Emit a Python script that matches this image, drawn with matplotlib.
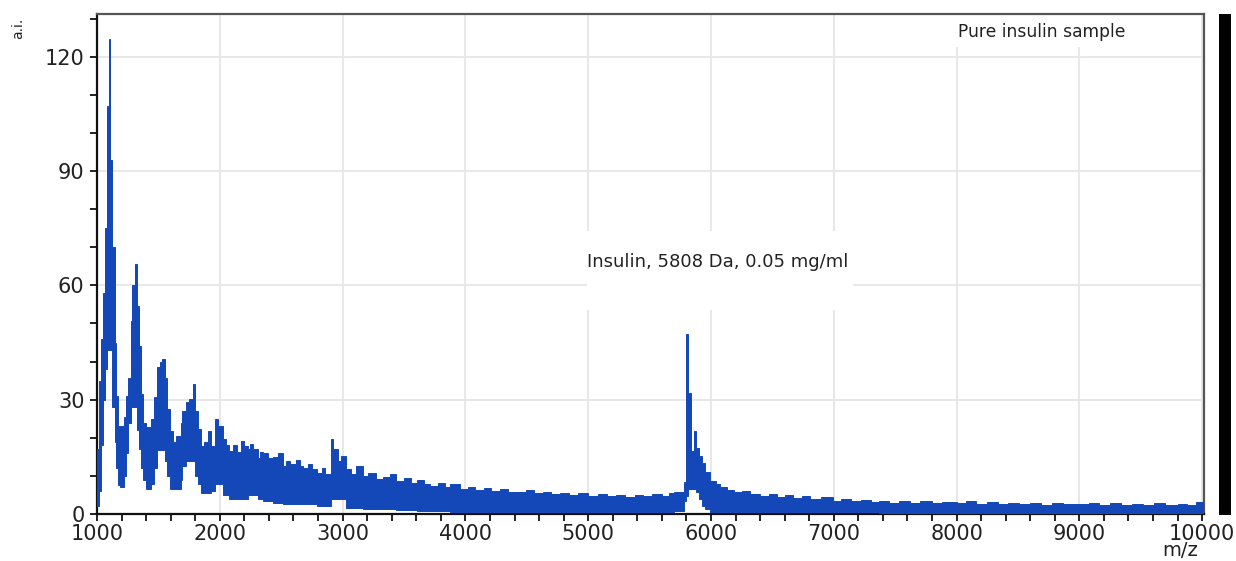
import numpy as np
import matplotlib
matplotlib.use("Agg")
import matplotlib.pyplot as plt
from matplotlib.ticker import MultipleLocator
from matplotlib.patches import Rectangle

# spectrum read off the picture as steps: segment start (m/z) and
# the top / bottom of the noise band (a.i.)
mz_top = [1000, 1014, 1030, 1046, 1063, 1082, 1096, 1109, 1123, 1145,
          1158, 1172, 1191, 1218, 1237, 1254, 1273, 1287, 1306, 1322,
          1341, 1355, 1374, 1396, 1437, 1464, 1491, 1510, 1532, 1554,
          1573, 1592, 1620, 1641, 1682, 1696, 1723, 1751, 1783, 1800,
          1819, 1846, 1874, 1901, 1928, 1964, 1983, 2024, 2050, 2078,
          2110, 2140, 2174, 2200, 2228, 2250, 2274, 2310, 2330, 2351,
          2390, 2433, 2470, 2515, 2540, 2570, 2620, 2650, 2679, 2720,
          2750, 2788, 2830, 2860, 2904, 2923, 2959, 2990, 3027, 3070,
          3110, 3164, 3210, 3274, 3330, 3384, 3438, 3500, 3560, 3603,
          3660, 3712, 3780, 3830, 3877, 3959, 4020, 4080, 4151, 4210,
          4280, 4350, 4425, 4490, 4560, 4630, 4699, 4770, 4840, 4920,
          5000, 5080, 5150, 5230, 5300, 5380, 5450, 5520, 5600, 5660,
          5700, 5780, 5799, 5815, 5834, 5861, 5880, 5901, 5928, 5955,
          5995, 6040, 6076, 6130, 6184, 6250, 6320, 6399, 6470, 6540,
          6600, 6668, 6740, 6810, 6900, 6991, 7060, 7140, 7220, 7300,
          7367, 7450, 7530, 7620, 7700, 7800, 7880, 8000, 8080, 8160,
          8250, 8340, 8420, 8510, 8600, 8690, 8780, 8870, 9000, 9080,
          9160, 9250, 9340, 9430, 9520, 9610, 9700, 9800, 9880, 9950]
top = [17, 35, 46, 58, 75, 107, 124.6, 93, 70, 45,
       31, 23, 23, 25.4, 31, 35.6, 50.7, 60, 65.5, 54.6,
       44, 31.6, 24, 22.8, 25, 30.7, 38.7, 40, 40.7, 35.6,
       27.6, 21.9, 18.8, 20.5, 24, 27, 29.4, 30.3, 34, 27,
       22.3, 17.9, 18.8, 21.7, 17.9, 25, 23.2, 19.7, 18.2, 16.6,
       18.0, 16.2, 19.2, 17.8, 17, 18.3, 17, 14.8, 16.4, 16,
       14.6, 15, 16.1, 12.6, 13.8, 13, 14.2, 12.5, 12, 13.1,
       11.8, 10.8, 12.0, 10.6, 19.6, 17, 13.9, 15.1, 11.7, 10.6,
       12.6, 10.0, 10.8, 9.1, 9.8, 10.4, 8.7, 9.4, 8.2, 8.9,
       8.0, 7.4, 8.1, 7.2, 7.8, 6.5, 7.1, 6.3, 6.8, 6.0,
       6.6, 5.9, 5.7, 6.2, 5.4, 5.9, 5.2, 5.6, 4.9, 5.4,
       4.8, 5.3, 4.6, 5.1, 4.5, 5.0, 4.6, 5.2, 4.7, 5.4,
       5.7, 8.3, 47.2, 31.7, 16.5, 21.7, 17.4, 15.2, 13.5, 10.9,
       8.7, 8.0, 7.0, 6.4, 5.7, 6.1, 5.2, 4.8, 5.2, 4.5,
       4.9, 4.3, 4.7, 4.0, 4.4, 3.5, 3.9, 3.3, 3.7, 3.1,
       3.4, 3.0, 3.5, 2.9, 3.3, 2.8, 3.2, 2.9, 3.3, 2.7,
       3.1, 2.6, 3.0, 2.5, 2.9, 2.4, 2.8, 2.5, 2.6, 3.0,
       2.4, 2.8, 2.3, 2.7, 2.3, 2.8, 2.4, 2.7, 2.4, 3.2]

mz_bottom = [1000, 1014, 1030, 1046, 1063, 1082, 1123, 1145, 1158, 1172,
             1191, 1218, 1237, 1254, 1273, 1322, 1341, 1355, 1374, 1396,
             1437, 1464, 1491, 1554, 1573, 1592, 1682, 1696, 1723, 1800,
             1819, 1846, 1928, 1964, 2024, 2078, 2228, 2310, 2351, 2433,
             2515, 2788, 2904, 3027, 3164, 3438, 3603, 3712, 3877, 3959,
             4151, 5700, 5780, 5799, 5815, 5880, 5901, 5928, 5955, 5995,
             6076, 7367]
bottom = [2, 6, 18, 30, 38, 43, 28, 19, 12, 7.5,
          7, 10, 16, 24, 28, 22, 17, 12, 9, 6.5,
          8, 12, 16.8, 14, 10, 6.5, 9, 12.6, 14, 10,
          8, 5.5, 6, 8, 5, 4, 5, 4, 3.5, 3,
          2.5, 2.2, 3.9, 1.7, 1.3, 1.0, 0.9, 0.8, 0.6, 0.5,
          0.4, 0.9, 3.4, 4.8, 6.5, 5.7, 3.9, 2.2, 1.3, 0.6,
          0.4, 0.3]
mz_end = 10015

x_ticks = [1000, 2000, 3000, 4000, 5000, 6000, 7000, 8000, 9000, 10000]
y_ticks = [0, 30, 60, 90, 120]

blue = "#1448b8"
ink = "#222222"


def step_outline(starts, vals, end):
    edges = np.array(list(starts) + [end], dtype=float)
    xs = np.repeat(edges, 2)[1:-1]
    ys = np.repeat(np.array(vals, dtype=float), 2)
    return xs, ys


fig = plt.figure(figsize=(12.36, 5.61), dpi=100)
ax = fig.add_axes([97 / 1236, 1 - 514 / 561, 1107 / 1236, 500 / 561])

xu, yu = step_outline(mz_top, top, mz_end)
xl, yl = step_outline(mz_bottom, bottom, mz_end)
ax.fill(np.concatenate([xu, xl[::-1]]), np.concatenate([yu, yl[::-1]]),
        color=blue, lw=0.7, zorder=3)

ax.set_xlim(1000, 10015)
ax.set_ylim(0, 131.2)
ax.set_xticks(x_ticks)
ax.set_yticks(y_ticks)
ax.xaxis.set_minor_locator(MultipleLocator(200))
ax.yaxis.set_minor_locator(MultipleLocator(10))
ax.tick_params(which="both", direction="out", length=5, width=1.4,
               color=ink, labelsize=15, labelcolor=ink)
ax.tick_params(axis="x", pad=2)
ax.tick_params(axis="y", pad=4)
ax.grid(which="major", color="#e8e8e8", lw=1.5, zorder=0)
ax.set_axisbelow(True)

for side in ["left", "bottom"]:
    ax.spines[side].set_color("#111111")
    ax.spines[side].set_linewidth(1.6)
for side in ["top", "right"]:
    ax.spines[side].set_color("#555555")
    ax.spines[side].set_linewidth(1.6)

# white boxes behind the labels hide the grid
ax.add_patch(Rectangle((0.443, 0.408), 0.240, 0.158, transform=ax.transAxes,
                       facecolor="white", edgecolor="none", zorder=1))
ax.add_patch(Rectangle((0.770, 0.935), 0.175, 0.065, transform=ax.transAxes,
                       facecolor="white", edgecolor="none", zorder=1))

ax.text(0.443, 0.504, "Insulin, 5808 Da, 0.05 mg/ml", transform=ax.transAxes,
        fontsize=13, color=ink, va="center", ha="left", zorder=4)
ax.text(0.778, 0.964, "Pure insulin sample", transform=ax.transAxes,
        fontsize=12.3, color=ink, va="center", ha="left", zorder=4)

fig.text(1180 / 1236, 1 - 551 / 561, "m/z", fontsize=14, color=ink,
         ha="center", va="center")
fig.text(18 / 1236, 1 - 28 / 561, "a.i.", fontsize=10, color=ink,
         rotation=90, ha="center", va="center")

# black bar at the right edge
fig.patches.append(Rectangle((1219 / 1236, 1 - 515 / 561), 12 / 1236, 501 / 561,
                             transform=fig.transFigure, facecolor="black",
                             edgecolor="none"))

fig.savefig("out.png", dpi=100)
